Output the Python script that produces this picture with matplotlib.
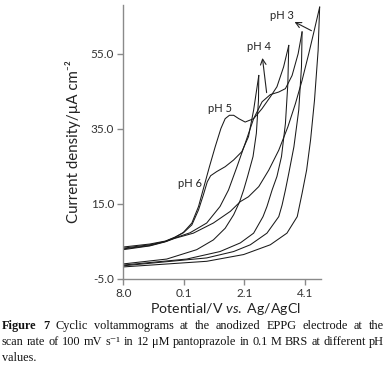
import matplotlib
matplotlib.use("Agg")
import matplotlib.pyplot as plt

plt.rcParams['font.family'] = ['Lato', 'DejaVu Sans']
plt.rcParams['mathtext.fontset'] = 'custom'
plt.rcParams['mathtext.rm'] = 'Lato'
plt.rcParams['mathtext.it'] = 'Lato:italic'

# ---- data (potential positions in tick-label units, current density in uA cm-2) ----
ph6_fwd_x = [-1.90, -1.02, -0.50, -0.20, 0.09, 0.37, 0.59, 0.75, 0.88, 0.99, 1.19, 1.47, 1.75, 2.02, 2.24, 2.41, 2.58]
ph6_fwd_y = [3.5, 4.3, 5.1, 6.1, 7.3, 9.4, 13.4, 17.4, 20.9, 22.5, 23.6, 24.9, 26.7, 28.9, 32.9, 40.0, 49.2]
ph6_rev_x = [2.58, 2.57, 2.50, 2.39, 2.21, 2.08, 1.95, 1.75, 1.47, 1.08, 0.53, -0.46, -1.90]
ph6_rev_y = [49.2, 42.6, 33.8, 27.6, 22.3, 18.7, 15.6, 12.1, 8.5, 5.4, 2.8, 0.3, -1.0]

ph5_fwd_x = [-1.90, -1.02, -0.50, -0.20, 0.09, 0.37, 0.59, 0.77, 0.95, 1.14, 1.33, 1.47, 1.61, 1.75, 1.92, 2.13, 2.41, 2.69, 2.96, 3.18, 3.40, 3.57]
ph5_fwd_y = [3.2, 4.1, 5.0, 6.0, 7.4, 9.9, 14.3, 19.6, 24.9, 30.2, 35.1, 37.7, 38.6, 38.6, 37.7, 36.8, 37.7, 40.4, 43.5, 46.2, 51.5, 57.2]
ph5_rev_x = [3.57, 3.54, 3.46, 3.33, 3.18, 3.02, 2.85, 2.72, 2.41, 1.97, 1.30, 0.20, -1.90]
ph5_rev_y = [57.2, 47.0, 36.4, 27.6, 22.3, 18.7, 14.3, 11.6, 7.2, 4.6, 2.3, 0.3, -1.3]

ph4_fwd_x = [-1.90, -1.02, -0.50, -0.20, 0.31, 0.86, 1.30, 1.58, 1.86, 2.13, 2.41, 2.69, 2.96, 3.24, 3.46, 3.68, 3.88, 4.01]
ph4_fwd_y = [3.0, 3.9, 5.0, 5.9, 7.3, 9.9, 14.3, 18.7, 24.9, 31.1, 37.7, 42.2, 44.1, 44.8, 45.7, 49.2, 55.0, 60.8]
ph4_rev_x = [4.01, 3.99, 3.90, 3.74, 3.57, 3.46, 3.35, 3.24, 2.85, 2.30, 1.75, 0.86, -1.90]
ph4_rev_y = [60.8, 51.5, 40.0, 30.2, 23.1, 18.7, 14.7, 11.6, 7.2, 4.1, 2.3, 0.6, -1.5]

ph3_fwd_x = [-1.90, -1.02, -0.50, -0.20, 0.42, 1.08, 1.64, 1.97, 2.24, 2.58, 2.91, 3.24, 3.54, 3.79, 4.01, 4.23, 4.40, 4.59]
ph3_fwd_y = [2.8, 3.8, 4.9, 5.8, 7.2, 9.9, 13.0, 15.6, 16.9, 19.6, 24.0, 29.3, 35.5, 41.7, 47.9, 55.0, 60.8, 67.4]
ph3_rev_x = [4.59, 4.54, 4.42, 4.29, 4.16, 4.01, 3.85, 3.51, 2.96, 2.08, 0.86, -1.90]
ph3_rev_y = [67.4, 55.9, 42.6, 32.0, 24.0, 17.8, 11.6, 7.2, 4.1, 1.5, -0.3, -1.8]

x_ticks = [-1.9, 0.1, 2.1, 4.1]
x_tick_labels = ["8.0", "0.1", "2.1", "4.1"]
y_ticks = [-5.0, 15.0, 35.0, 55.0]
y_tick_labels = ["-5.0", "15.0", "35.0", "55.0"]

labels = ["pH 3", "pH 4", "pH 5", "pH 6"]
label_pos = [(3.35, 65.2), (2.58, 56.8), (1.30, 40.4), (0.31, 20.5)]

W, H = 386, 379
fig = plt.figure(figsize=(W / 100, H / 100), dpi=100)
ax = fig.add_axes([0.319, 0.264, 0.513, 0.723])

lc = '#1a1a1a'
lw = 0.75
for xs, ys in [(ph6_fwd_x, ph6_fwd_y), (ph6_rev_x, ph6_rev_y),
               (ph5_fwd_x, ph5_fwd_y), (ph5_rev_x, ph5_rev_y),
               (ph4_fwd_x, ph4_fwd_y), (ph4_rev_x, ph4_rev_y),
               (ph3_fwd_x, ph3_fwd_y), (ph3_rev_x, ph3_rev_y)]:
    ax.plot(xs, ys, color=lc, lw=lw, solid_joinstyle='round')

ax.set_xlim(-1.9, 4.64)
ax.set_ylim(-5.0, 68.0)
ax.set_xticks(x_ticks)
ax.set_xticklabels(x_tick_labels)
ax.set_yticks(y_ticks)
ax.set_yticklabels(y_tick_labels)
for s in ['top', 'right']:
    ax.spines[s].set_visible(False)
for s in ['left', 'bottom']:
    ax.spines[s].set_color('#8a8a8a')
    ax.spines[s].set_linewidth(1.0)
ax.tick_params(axis='both', direction='out', length=4, width=1.0, color='#8a8a8a',
               labelsize=8.5, labelcolor='#333333', pad=2.5)

# labels with arrows
ax.text(*label_pos[0], labels[0], fontsize=8, ha='center', va='center', color='#222')
ax.annotate('', xy=(3.68, 63.8), xytext=(4.40, 60.8),
            arrowprops=dict(arrowstyle='->', color='#222', lw=0.8))
ax.text(*label_pos[1], labels[1], fontsize=8, ha='center', va='center', color='#222')
ax.annotate('', xy=(2.69, 54.6), xytext=(2.85, 43.9),
            arrowprops=dict(arrowstyle='->', color='#222', lw=0.8))
ax.text(*label_pos[2], labels[2], fontsize=8, ha='center', va='center', color='#222')
ax.text(*label_pos[3], labels[3], fontsize=8, ha='center', va='center', color='#222')

ax.set_ylabel("Current density/µA cm⁻²", fontsize=10.8, color='#222', labelpad=7)
fig.text(225 / W, 1 - 309 / H, r"Potential/V $\it{vs.}$ Ag/AgCl", fontsize=10.2,
         color='#222', ha='center', va='center')

# caption (justified lines)
serif = ['Liberation Serif', 'DejaVu Serif']
cfs = 8.8
renderer = fig.canvas.get_renderer()
x_left, x_right = 2.0, 384.0


def justified(words, ypix, bold_first=False):
    texts = []
    for i, w in enumerate(words):
        t = fig.text(0, 1 - ypix / H, w, fontsize=cfs, family=serif,
                     fontweight='bold' if (bold_first and i < 2) else 'normal',
                     va='center', ha='left', color='#111')
        texts.append(t)
    widths = [t.get_window_extent(renderer=renderer).width for t in texts]
    gap = (x_right - x_left - sum(widths)) / (len(words) - 1)
    x = x_left
    for t, wdt in zip(texts, widths):
        t.set_x(x / W)
        x += wdt + gap


line1 = "Figure 7 Cyclic voltammograms at the anodized EPPG electrode at the".split()
line2 = "scan rate of 100 mV s⁻¹ in 12 μM pantoprazole in 0.1 M BRS at different pH".split()
justified(line1, 326, bold_first=True)
justified(line2, 342)
fig.text(x_left / W, 1 - 358 / H, "values.", fontsize=cfs, family=serif,
         va='center', ha='left', color='#111')

fig.savefig("out.png", dpi=100)
